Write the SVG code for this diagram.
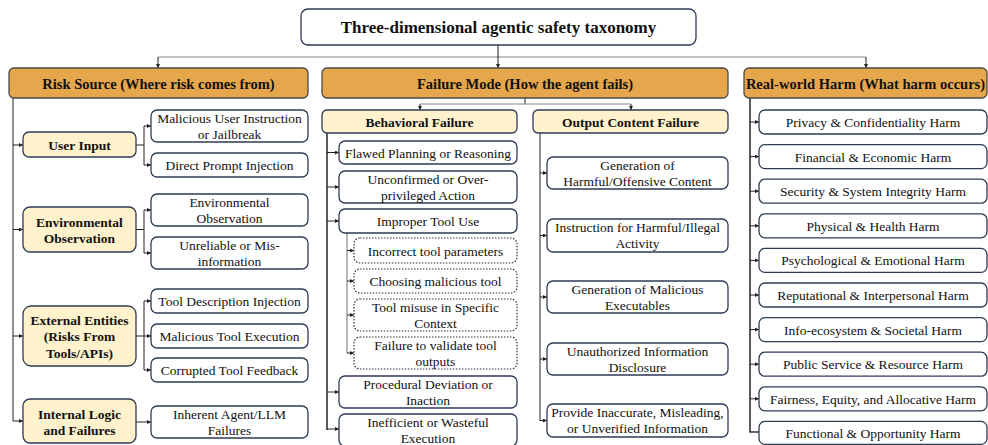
<svg xmlns="http://www.w3.org/2000/svg" width="988" height="445" viewBox="0 0 988 445" font-family="'Liberation Serif', 'Times New Roman', Times, serif">
<defs>
<marker id="ah" viewBox="0 0 6 6" markerWidth="4" markerHeight="4" refX="6" refY="3" orient="auto" markerUnits="userSpaceOnUse">
<path d="M0,0 L6,3 L0,6 z" fill="#222"/>
</marker>
<style>
text{fill:#111;text-anchor:middle;dominant-baseline:central}
.t{font-size:17px;font-weight:bold}
.h{font-size:14.5px;font-weight:bold}
.p{font-size:13.5px;font-weight:bold}
.c{font-size:13.5px}
.title{fill:#fff;stroke:#2E3B55;stroke-width:1.3}
.hdr{fill:#E6A64B;stroke:#4A4A4A;stroke-width:1.3}
.sub{fill:#FFF2CC;stroke:#2E3B55;stroke-width:1.3}
.box{fill:#fff;stroke:#2E3B55;stroke-width:1.3}
.dot{fill:#fff;stroke:#333;stroke-width:1.2;stroke-dasharray:1.5 1.5}
.ln{fill:none;stroke:#222;stroke-width:1}
.gl{fill:none;stroke:#888;stroke-width:1.2}
.tk{fill:none;stroke:#333;stroke-width:1.6}
.ar{marker-end:url(#ah)}
</style>
</defs>
<g id="connectors">
<path class="gl" d="M158,57 H866"/>
<path class="ln ar" d="M498,45 V68"/>
<path class="ln ar" d="M158,57 V68"/>
<path class="ln ar" d="M866,57 V68"/>
<path class="ln" d="M13,98 V421"/>
<path class="ln ar" d="M13,145 H23"/>
<path class="ln ar" d="M13,229.5 H23"/>
<path class="ln ar" d="M13,336 H23"/>
<path class="ln ar" d="M13,421 H23"/>
<path class="ln" d="M136,145 H144 M144,126 V165"/>
<path class="ln ar" d="M144,126 H151"/>
<path class="ln ar" d="M144,165 H151"/>
<path class="ln" d="M136,229.5 H144 M144,210 V253"/>
<path class="ln ar" d="M144,210 H151"/>
<path class="ln ar" d="M144,253 H151"/>
<path class="ln" d="M136,336 H144 M144,301 V370"/>
<path class="ln ar" d="M144,301 H151"/>
<path class="ln ar" d="M144,336 H151"/>
<path class="ln ar" d="M144,370 H151"/>
<path class="ln ar" d="M136,422 H151"/>
<path class="ln" d="M525,98 V104"/>
<path class="gl" d="M420,104 H631"/>
<path class="ln ar" d="M420,104 V110"/>
<path class="ln ar" d="M631,104 V110"/>
<path class="tk" d="M327,133 V430"/>
<path class="ln ar" d="M327,152.5 H339"/>
<path class="ln ar" d="M327,187 H339"/>
<path class="ln ar" d="M327,221 H339"/>
<path class="ln ar" d="M327,392 H339"/>
<path class="ln ar" d="M327,429 H339"/>
<path class="gl" d="M347,233 V353"/>
<path class="ln ar" d="M347,250.5 H354"/>
<path class="ln ar" d="M347,281 H354"/>
<path class="ln ar" d="M347,315 H354"/>
<path class="ln ar" d="M347,353 H354"/>
<path class="ln" d="M540,133 V421"/>
<path class="ln ar" d="M540,173 H547"/>
<path class="ln ar" d="M540,235.5 H547"/>
<path class="ln ar" d="M540,297 H547"/>
<path class="ln ar" d="M540,359 H547"/>
<path class="ln ar" d="M540,420.5 H547"/>
<path class="tk" d="M750,98 V432 H759"/>
<path class="ln ar" d="M750,122 H759"/>
<path class="ln ar" d="M750,156.6 H759"/>
<path class="ln ar" d="M750,191.2 H759"/>
<path class="ln ar" d="M750,225.8 H759"/>
<path class="ln ar" d="M750,260.4 H759"/>
<path class="ln ar" d="M750,295 H759"/>
<path class="ln ar" d="M750,329.6 H759"/>
<path class="ln ar" d="M750,364.2 H759"/>
<path class="ln ar" d="M750,398.8 H759"/>
</g>
<g id="title"><rect class="title" x="301" y="9" width="395" height="36" rx="7"/><text class="t" x="498.5" y="27.5">Three-dimensional agentic safety taxonomy</text></g>
<g id="risk-source"><rect class="hdr" x="9" y="68" width="299" height="30" rx="5"/><text class="h" x="158.5" y="83.5">Risk Source (Where risk comes from)</text></g>
<g id="failure-mode"><rect class="hdr" x="322" y="68" width="406" height="30" rx="5"/><text class="h" x="525" y="83.5">Failure Mode (How the agent fails)</text></g>
<g id="real-world-harm"><rect class="hdr" x="744" y="68" width="243" height="30" rx="5"/><text class="h" x="865.5" y="83.5">Real-world Harm (What harm occurs)</text></g>

<g id="user-input"><rect class="sub" x="23" y="132" width="113" height="25" rx="6"/><text class="p" x="79.5" y="145">User Input</text></g>
<g id="malicious-user"><rect class="box" x="151" y="110" width="157" height="32" rx="6"/><text class="c" x="229.5" y="118">Malicious User Instruction</text><text class="c" x="229.5" y="134">or Jailbreak</text></g>
<g id="direct-prompt"><rect class="box" x="151" y="153" width="157" height="24" rx="6"/><text class="c" x="229.5" y="165.5">Direct Prompt Injection</text></g>

<g id="env-obs"><rect class="sub" x="23" y="207" width="113" height="45" rx="7"/><text class="p" x="79.5" y="222">Environmental</text><text class="p" x="79.5" y="238">Observation</text></g>
<g id="env-observation"><rect class="box" x="151" y="194" width="157" height="32" rx="6"/><text class="c" x="229.5" y="202">Environmental</text><text class="c" x="229.5" y="218">Observation</text></g>
<g id="unreliable"><rect class="box" x="151" y="237" width="157" height="32" rx="6"/><text class="c" x="229.5" y="245">Unreliable or Mis-</text><text class="c" x="229.5" y="261">information</text></g>

<g id="external-entities"><rect class="sub" x="23" y="306" width="113" height="60" rx="8"/><text class="p" x="79.5" y="320">External Entities</text><text class="p" x="79.5" y="336.5">(Risks From</text><text class="p" x="79.5" y="353">Tools/APIs)</text></g>
<g id="tool-desc"><rect class="box" x="151" y="289" width="157" height="24" rx="6"/><text class="c" x="229.5" y="301.5">Tool Description Injection</text></g>
<g id="malicious-tool-exec"><rect class="box" x="151" y="324" width="157" height="24" rx="6"/><text class="c" x="229.5" y="336.5">Malicious Tool Execution</text></g>
<g id="corrupted-feedback"><rect class="box" x="151" y="358" width="157" height="24" rx="6"/><text class="c" x="229.5" y="370.5">Corrupted Tool Feedback</text></g>

<g id="internal-logic"><rect class="sub" x="23" y="399" width="113" height="44" rx="7"/><text class="p" x="79.5" y="414">Internal Logic</text><text class="p" x="79.5" y="430">and Failures</text></g>
<g id="inherent"><rect class="box" x="151" y="406" width="157" height="32" rx="6"/><text class="c" x="229.5" y="414">Inherent Agent/LLM</text><text class="c" x="229.5" y="430">Failures</text></g>

<g id="behavioral"><rect class="sub" x="322" y="110" width="195" height="23" rx="5"/><text class="p" x="419.5" y="122">Behavioral Failure</text></g>
<g id="flawed"><rect class="box" x="339" y="141" width="178" height="23" rx="6"/><text class="c" x="428" y="153">Flawed Planning or Reasoning</text></g>
<g id="unconfirmed"><rect class="box" x="339" y="171" width="178" height="32" rx="6"/><text class="c" x="428" y="179">Unconfirmed or Over-</text><text class="c" x="428" y="195">privileged Action</text></g>
<g id="improper"><rect class="box" x="339" y="209" width="178" height="24" rx="6"/><text class="c" x="428" y="221.5">Improper Tool Use</text></g>
<g id="incorrect-params"><rect class="dot" x="354" y="238" width="163" height="25" rx="6"/><text class="c" x="435.5" y="251">Incorrect tool parameters</text></g>
<g id="choosing"><rect class="dot" x="354" y="269" width="163" height="24" rx="6"/><text class="c" x="435.5" y="281.5">Choosing malicious tool</text></g>
<g id="misuse"><rect class="dot" x="354" y="299" width="163" height="32" rx="6"/><text class="c" x="435.5" y="307">Tool misuse in Specific</text><text class="c" x="435.5" y="323">Context</text></g>
<g id="validate"><rect class="dot" x="354" y="337" width="163" height="32" rx="6"/><text class="c" x="435.5" y="345">Failure to validate tool</text><text class="c" x="435.5" y="361">outputs</text></g>
<g id="procedural"><rect class="box" x="339" y="376" width="178" height="32" rx="6"/><text class="c" x="428" y="384">Procedural Deviation or</text><text class="c" x="428" y="400">Inaction</text></g>
<g id="inefficient"><rect class="box" x="339" y="414" width="178" height="32" rx="6"/><text class="c" x="428" y="422">Inefficient or Wasteful</text><text class="c" x="428" y="438">Execution</text></g>

<g id="output-content"><rect class="sub" x="533" y="110" width="195" height="23" rx="5"/><text class="p" x="630.5" y="122">Output Content Failure</text></g>
<g id="gen-harmful"><rect class="box" x="547" y="157" width="181" height="32" rx="6"/><text class="c" x="637.5" y="165">Generation of</text><text class="c" x="637.5" y="181">Harmful/Offensive Content</text></g>
<g id="instruction"><rect class="box" x="547" y="219" width="181" height="33" rx="6"/><text class="c" x="637.5" y="227.5">Instruction for Harmful/Illegal</text><text class="c" x="637.5" y="243.5">Activity</text></g>
<g id="gen-malicious"><rect class="box" x="547" y="281" width="181" height="32" rx="6"/><text class="c" x="637.5" y="289">Generation of Malicious</text><text class="c" x="637.5" y="305">Executables</text></g>
<g id="unauthorized"><rect class="box" x="547" y="343" width="181" height="32" rx="6"/><text class="c" x="637.5" y="351">Unauthorized Information</text><text class="c" x="637.5" y="367">Disclosure</text></g>
<g id="inaccurate"><rect class="box" x="547" y="404" width="181" height="33" rx="6"/><text class="c" x="637.5" y="412.5">Provide Inaccurate, Misleading,</text><text class="c" x="637.5" y="428.5">or Unverified Information</text></g>

<g id="privacy"><rect class="box" x="759" y="110" width="228" height="24" rx="6"/><text class="c" x="873" y="122.5">Privacy &amp; Confidentiality Harm</text></g>
<g id="financial"><rect class="box" x="759" y="144.6" width="228" height="24" rx="6"/><text class="c" x="873" y="157">Financial &amp; Economic Harm</text></g>
<g id="security"><rect class="box" x="759" y="179.2" width="228" height="24" rx="6"/><text class="c" x="873" y="191.6">Security &amp; System Integrity Harm</text></g>
<g id="physical"><rect class="box" x="759" y="213.8" width="228" height="24" rx="6"/><text class="c" x="873" y="226.2">Physical &amp; Health Harm</text></g>
<g id="psychological"><rect class="box" x="759" y="248.4" width="228" height="24" rx="6"/><text class="c" x="873" y="260.8">Psychological &amp; Emotional Harm</text></g>
<g id="reputational"><rect class="box" x="759" y="283" width="228" height="24" rx="6"/><text class="c" x="873" y="295.4">Reputational &amp; Interpersonal Harm</text></g>
<g id="info-ecosystem"><rect class="box" x="759" y="317.6" width="228" height="24" rx="6"/><text class="c" x="873" y="330">Info-ecosystem &amp; Societal Harm</text></g>
<g id="public-service"><rect class="box" x="759" y="352.2" width="228" height="24" rx="6"/><text class="c" x="873" y="364.6">Public Service &amp; Resource Harm</text></g>
<g id="fairness"><rect class="box" x="759" y="386.8" width="228" height="24" rx="6"/><text class="c" x="873" y="399.2">Fairness, Equity, and Allocative Harm</text></g>
<g id="functional"><rect class="box" x="759" y="421.4" width="228" height="23" rx="6"/><text class="c" x="873" y="433.3">Functional &amp; Opportunity Harm</text></g>
</svg>
